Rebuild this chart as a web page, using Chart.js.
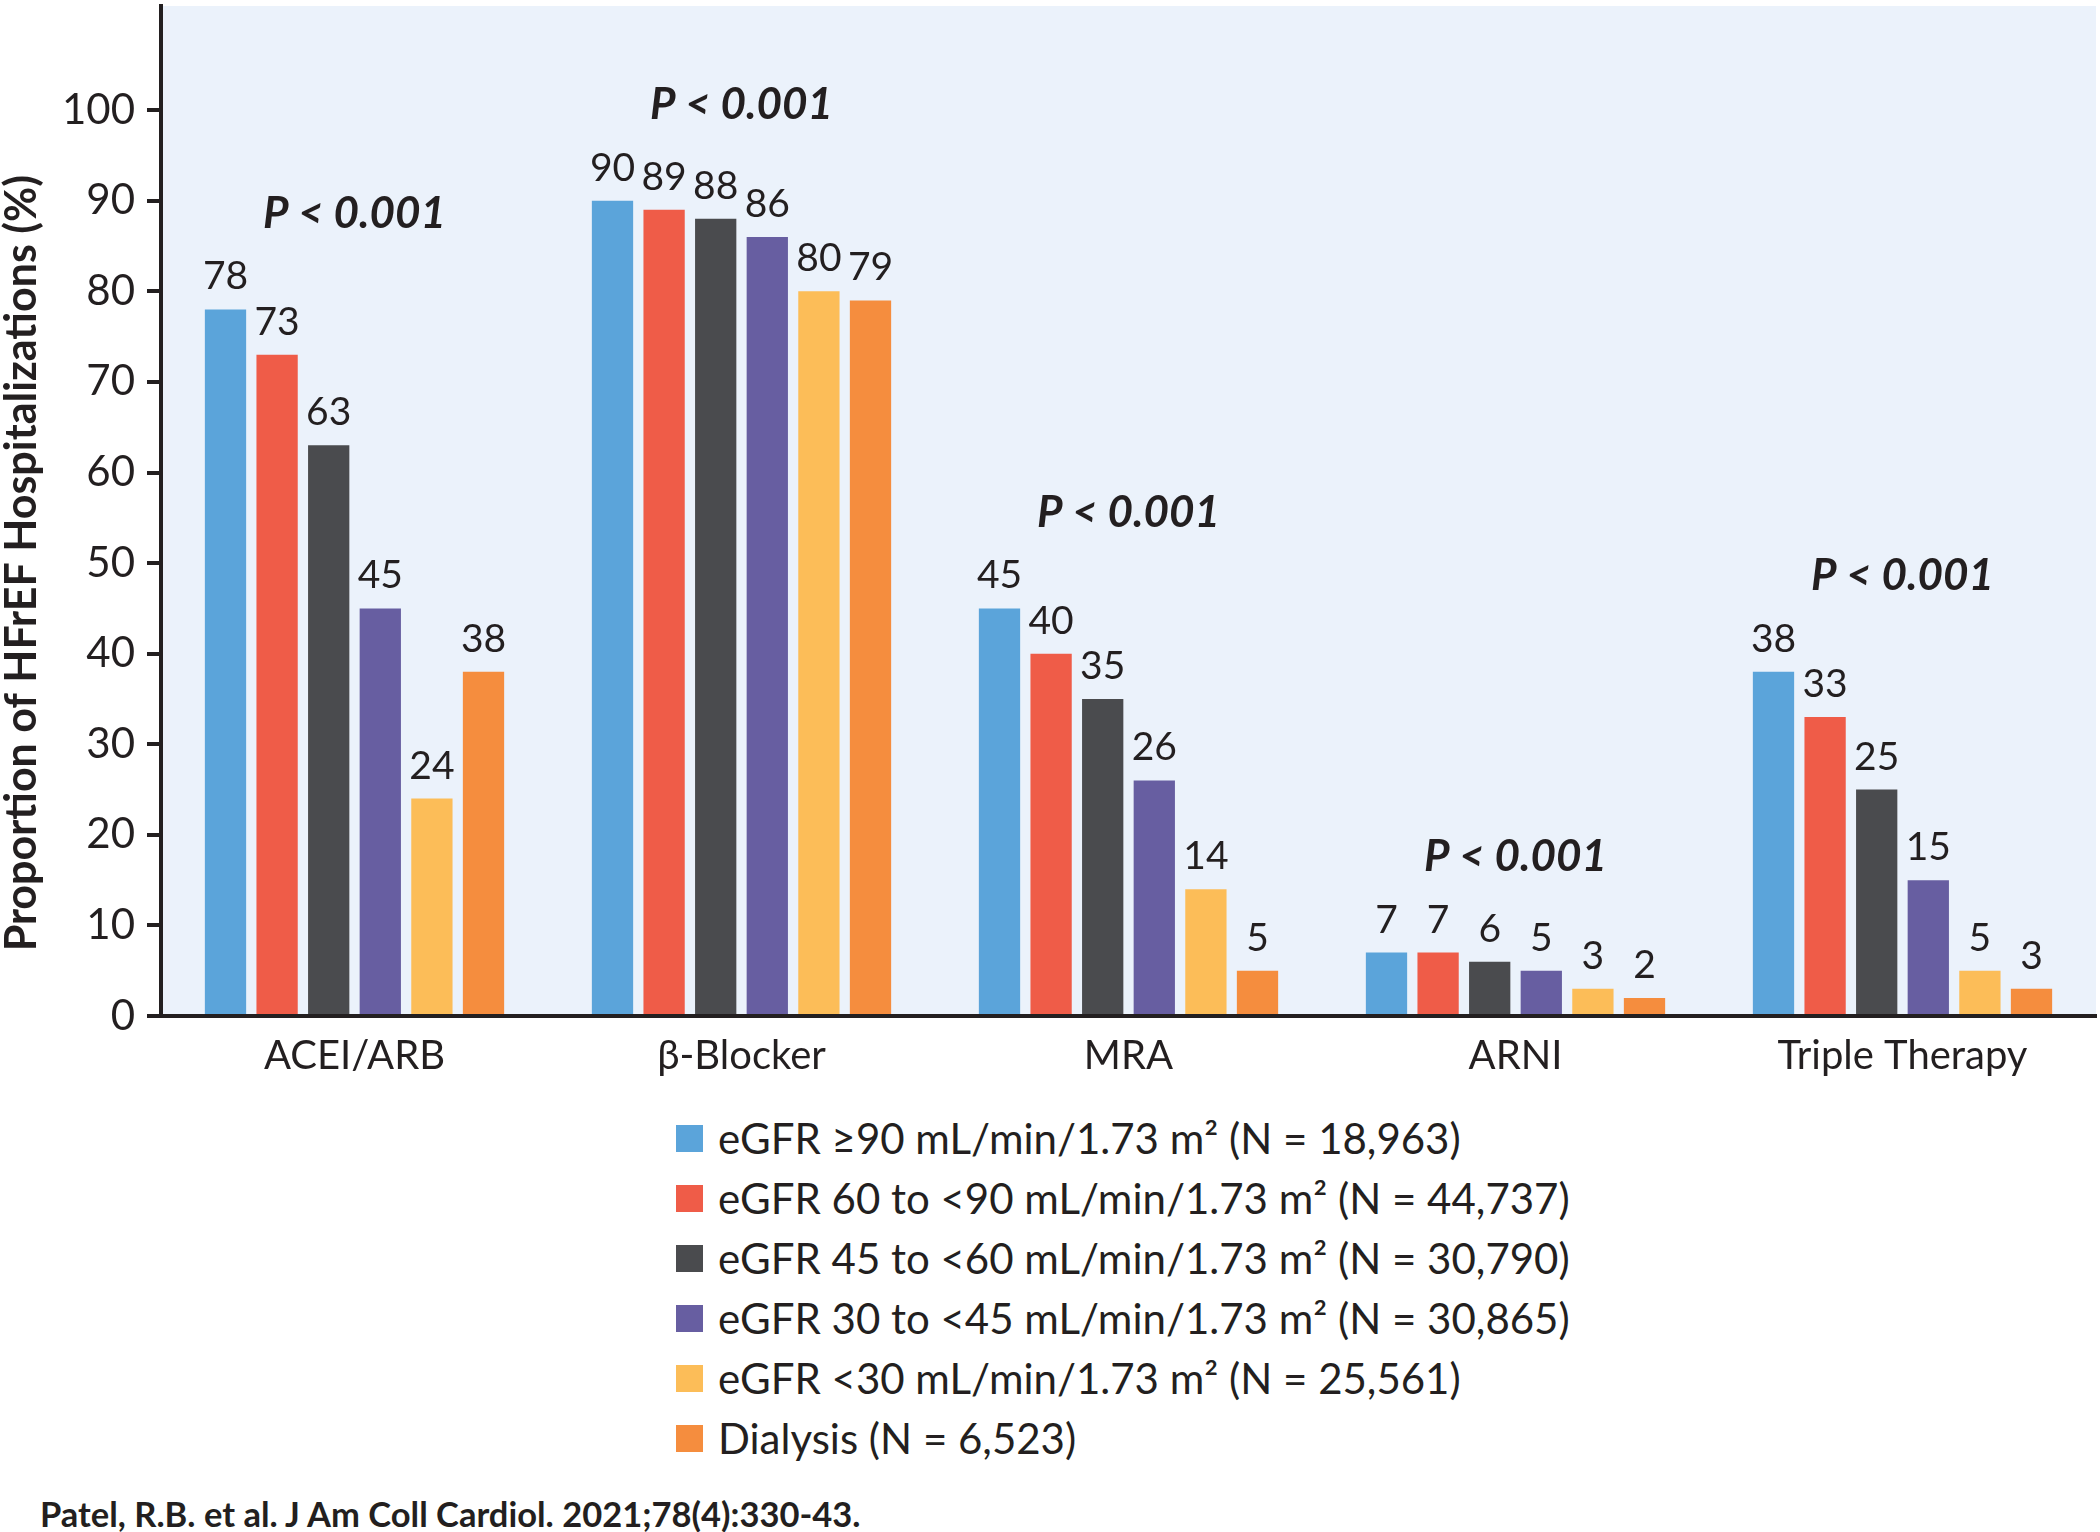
<!DOCTYPE html>
<html>
<head>
<meta charset="utf-8">
<title>HFrEF GDMT by eGFR</title>
<script src="https://cdn.jsdelivr.net/npm/chart.js@4.4.1/dist/chart.umd.min.js"></script>
<style>
  body { margin: 0; background: #fff; font-family: Lato, 'Open Sans', sans-serif; color: #231f20; }
  #wrap { position: relative; width: 2100px; height: 1532px; }
  #chartBox { position: absolute; left: 0; top: 0; width: 2100px; height: 1090px; }
  #legend { position: absolute; left: 676px; top: 1108px; }
  .row { display: flex; align-items: center; height: 60px; font-size: 42px; white-space: nowrap; }
  .sw { width: 27px; height: 27px; margin-right: 15px; flex: none; }
  #cite { position: absolute; left: 40px; top: 1493px; font-size: 34.5px; font-weight: 700; }
</style>
</head>
<body>
<div id="wrap">
  <div id="chartBox"><canvas id="gdmtChart"></canvas></div>
  <div id="legend"></div>
  <div id="cite">Patel, R.B. et al. J Am Coll Cardiol. 2021;78(4):330-43.</div>
</div>
<script>
// categories + series
const categories = ['ACEI/ARB', 'β-Blocker', 'MRA', 'ARNI', 'Triple Therapy'];
const egfr90   = [78, 90, 45, 7, 38];
const egfr60   = [73, 89, 40, 7, 33];
const egfr45   = [63, 88, 35, 6, 25];
const egfr30   = [45, 86, 26, 5, 15];
const egfrLt30 = [24, 80, 14, 3, 5];
const dialysis = [38, 79, 5, 2, 3];
const pValues  = ['P < 0.001', 'P < 0.001', 'P < 0.001', 'P < 0.001', 'P < 0.001'];
const yTicks   = [0, 10, 20, 30, 40, 50, 60, 70, 80, 90, 100];

const seriesLabels = [
  'eGFR ≥90 mL/min/1.73 m² (N = 18,963)',
  'eGFR 60 to <90 mL/min/1.73 m² (N = 44,737)',
  'eGFR 45 to <60 mL/min/1.73 m² (N = 30,790)',
  'eGFR 30 to <45 mL/min/1.73 m² (N = 30,865)',
  'eGFR <30 mL/min/1.73 m² (N = 25,561)',
  'Dialysis (N = 6,523)'
];
const seriesData = [egfr90, egfr60, egfr45, egfr30, egfrLt30, dialysis];
const seriesColors = ['#5ba4da', '#ef5c48', '#4a4b4e', '#675ea1', '#fcbd58', '#f58d3e'];

const INK = '#231f20';

// light blue plot area
const plotBg = {
  id: 'plotBg',
  beforeDraw(chart) {
    const { ctx, chartArea: a } = chart;
    ctx.save();
    ctx.fillStyle = '#ebf2fb';
    ctx.fillRect(a.left, a.top, a.right - a.left, a.bottom - a.top);
    ctx.restore();
  }
};

// numbers over bars + P values over each group
const barLabels = {
  id: 'barLabels',
  afterDatasetsDraw(chart) {
    const ctx = chart.ctx;
    const xs = chart.scales.x, ys = chart.scales.y;
    ctx.save();
    ctx.fillStyle = INK;
    ctx.textAlign = 'center';
    ctx.textBaseline = 'alphabetic';
    ctx.font = '39px Lato';
    chart.data.datasets.forEach((ds, i) => {
      chart.getDatasetMeta(i).data.forEach((bar, j) => {
        ctx.fillText(ds.data[j], bar.x, bar.y - 20);
      });
    });
    ctx.font = 'italic 700 44px Lato';
    categories.forEach((c, j) => {
      const top = Math.max(...seriesData.map(s => s[j]));
      ctx.fillText(pValues[j], xs.getPixelForValue(j), ys.getPixelForValue(top + 9));
    });
    ctx.restore();
  }
};

// y title centred on the 0-100 span
const yTitle = {
  id: 'yTitle',
  afterDraw(chart) {
    const ctx = chart.ctx, ys = chart.scales.y;
    const mid = (ys.getPixelForValue(0) + ys.getPixelForValue(100)) / 2;
    ctx.save();
    ctx.translate(22, mid);
    ctx.rotate(-Math.PI / 2);
    ctx.fillStyle = INK;
    ctx.font = '700 43px Lato';
    ctx.textAlign = 'center';
    ctx.textBaseline = 'middle';
    ctx.fillText('Proportion of HFrEF Hospitalizations (%)', 0, 0);
    ctx.restore();
  }
};

const datasets = seriesData.map((d, i) => ({
  label: seriesLabels[i],
  data: d,
  backgroundColor: seriesColors[i],
  borderWidth: 0,
  categoryPercentage: 0.8,
  barPercentage: 0.8
}));

new Chart(document.getElementById('gdmtChart'), {
  type: 'bar',
  data: { labels: categories, datasets },
  plugins: [plotBg, barLabels, yTitle],
  options: {
    responsive: true,
    maintainAspectRatio: false,
    animation: false,
    layout: { padding: { top: 6, right: 4, left: 0, bottom: 0 } },
    plugins: { legend: { display: false }, tooltip: { enabled: false } },
    scales: {
      x: {
        grid: { display: false },
        border: { color: INK, width: 4 },
        ticks: { font: { family: 'Lato', size: 40 }, color: INK, padding: 8 },
        afterFit: s => { s.height = 74; }
      },
      y: {
        min: 0,
        max: 111.5,
        afterBuildTicks: s => { s.ticks = yTicks.map(v => ({ value: v })); },
        afterFit: s => { s.width = 161; s.paddingTop = 0; s.paddingBottom = 0; },
        grid: { drawOnChartArea: false, tickLength: 14, color: INK, lineWidth: 4 },
        border: { color: INK, width: 4 },
        ticks: { font: { family: 'Lato', size: 42 }, color: INK, padding: 12 }
      }
    }
  }
});

// legend, one series per row
const legend = document.getElementById('legend');
seriesLabels.forEach((lab, i) => {
  const row = document.createElement('div');
  row.className = 'row';
  const sw = document.createElement('span');
  sw.className = 'sw';
  sw.style.background = seriesColors[i];
  const txt = document.createElement('span');
  txt.textContent = lab;
  row.appendChild(sw);
  row.appendChild(txt);
  legend.appendChild(row);
});
</script>
</body>
</html>
